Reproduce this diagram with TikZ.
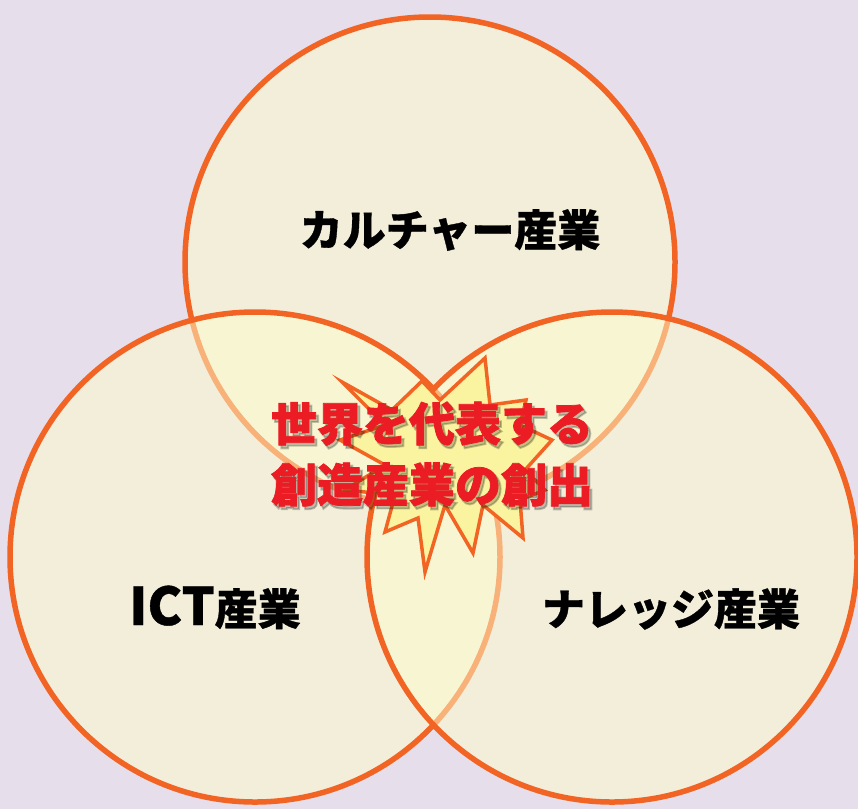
\documentclass[tikz,border=0pt]{standalone}
\usepackage{fontspec}
\newfontfamily\jp{Noto Sans CJK JP}[BoldFeatures={FakeBold=0.8}]
\newfontfamily\jpheavy{Noto Sans CJK JP}[BoldFeatures={FakeBold=1.6}]
\newfontfamily\jpshade{Noto Sans CJK JP}[BoldFeatures={FakeBold=4}]
\definecolor{bg}{RGB}{230,222,234}
\definecolor{ring}{RGB}{242,100,36}
\definecolor{cream}{RGB}{255,255,204}
\definecolor{burst}{RGB}{250,243,160}
\definecolor{hotred}{RGB}{236,28,36}
\begin{document}
\begin{tikzpicture}[x=1pt,y=-1pt,
  venn/.style={circle, minimum size=490pt, inner sep=0pt, draw=ring, line width=5.5pt, fill=cream, fill opacity=0.5, draw opacity=1},
  lbl/.style={font=\jp\bfseries\fontsize{43}{43}\selectfont, text=black, inner sep=0pt},
  hot/.style={font=\jpheavy\bfseries\fontsize{46}{61}\selectfont, align=center, inner sep=0pt},
  shade/.style={font=\jpshade\bfseries\fontsize{46}{61}\selectfont, align=center, inner sep=0pt},
  burstline/.style={draw=ring, line width=3.5pt, fill=burst, line join=miter}
]
\useasboundingbox (0,0) rectangle (858,809);
\fill[bg] (0,0) rectangle (858,809);

\node[venn] (top) at (430,262) {};
\node[venn] (left) at (255,557) {};
\node[venn] (right) at (612,557) {};

\draw[burstline] (342,382) -- (392,410) -- (422,381) -- (440,400) -- (485,358) -- (490,405)
  -- (526,400) -- (520,425) -- (552,440) -- (525,470) -- (545,490) -- (520,500)
  -- (523,538) -- (483,505) -- (473,553) -- (445,505) -- (425,572) -- (418,518)
  -- (385,532) -- (395,495) -- (345,490) -- (385,465) -- (340,440) -- (385,425) -- cycle;

\node[lbl] (culture) at (450,230) {カルチャー産業};
\node[lbl, anchor=base] (ict) at (215,625) {{\fontsize{52}{52}\selectfont ICT}産業};
\node[lbl] (knowledge) at (671,609) {ナレッジ産業};

\node[shade, text=black, text opacity=0.22] (sloganshade) at (434.5,457) {世界を代表する\\創造産業の創出};
\node[hot, text=hotred] (slogan) at (432,454) {世界を代表する\\創造産業の創出};
\end{tikzpicture}
\end{document}
